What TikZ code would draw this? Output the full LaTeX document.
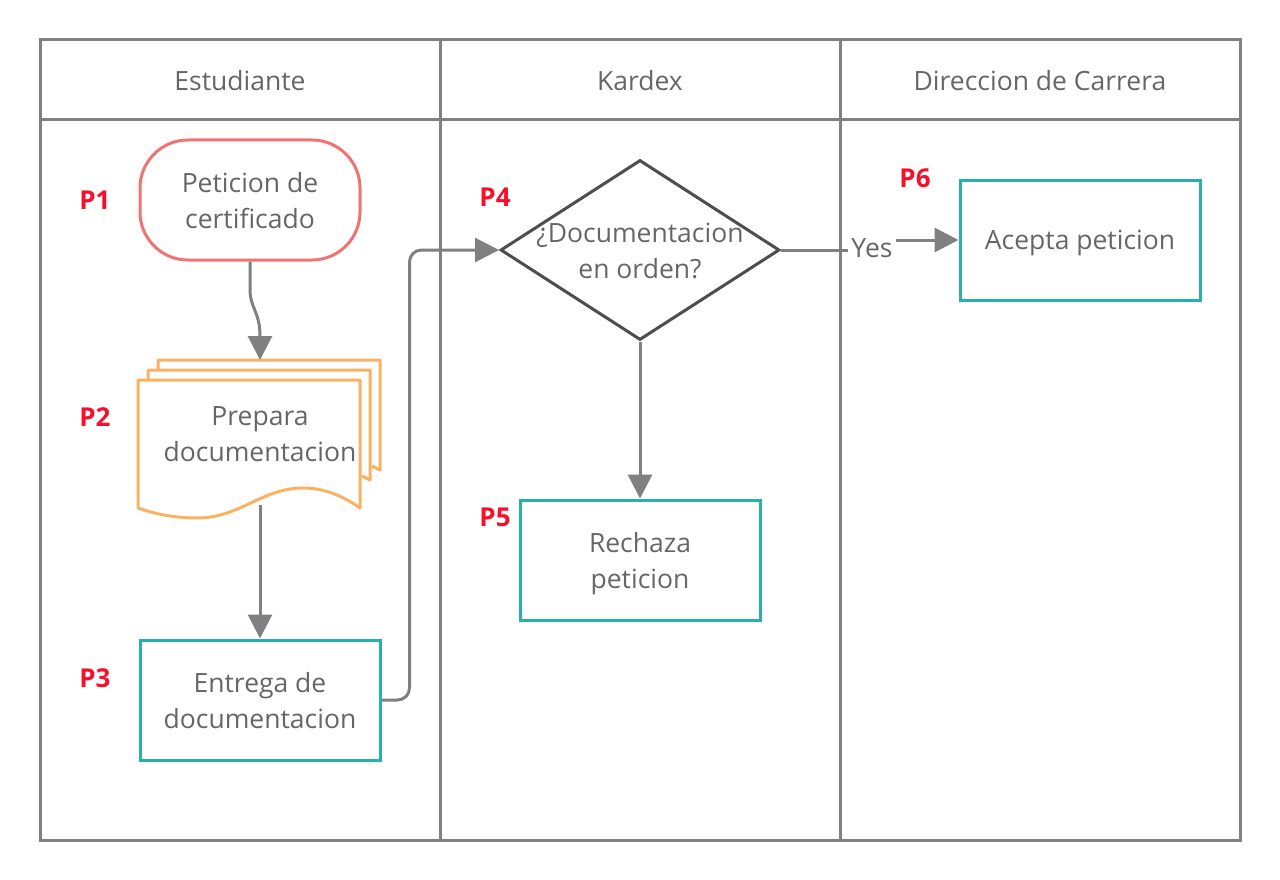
\documentclass[tikz,border=0pt]{standalone}
\usepackage{fontspec}
\setmainfont{Open Sans}
\usetikzlibrary{arrows.meta,shapes.geometric}
\definecolor{lanegray}{HTML}{808080}
\definecolor{txtgray}{HTML}{666666}
\definecolor{startred}{HTML}{F07373}
\definecolor{docorange}{HTML}{F8B262}
\definecolor{procteal}{HTML}{26B0AE}
\definecolor{decgray}{HTML}{4D4D4D}
\definecolor{pred}{HTML}{F8102A}

\begin{document}
\begin{tikzpicture}[x=1pt,y=-1pt,
    lane/.style={draw=lanegray, line width=3pt},
    boxtext/.style={text=txtgray, font=\fontsize{26.5}{36}\selectfont, align=center},
    shapetext/.style={boxtext, text depth=0pt},
    startbox/.style={shapetext, draw=startred, line width=3pt, rounded corners=48pt,
      minimum width=220pt, minimum height=120pt, fill=white},
    procbox/.style={shapetext, draw=procteal, line width=3pt,
      minimum width=240pt, minimum height=120pt},
    decbox/.style={diamond, draw=decgray, line width=3pt, inner sep=0pt,
      minimum width=279pt, minimum height=180pt},
    docpage/.style={draw=docorange, line width=3pt, fill=white, line join=round},
    flow/.style={draw=lanegray, line width=3pt, -{Triangle[width=24pt,length=24pt]}},
    plabel/.style={text=pred, font=\fontsize{26}{30}\selectfont\bfseries}]
  \useasboundingbox (0,0) rectangle (1280,880);

  % Swimlanes
  \draw[lane] (40,40) rectangle (1240,840);
  \draw[lane] (40,120) -- (1240,120);
  \draw[lane] (440,40) -- (440,840);
  \draw[lane] (840,40) -- (840,840);
  \node[boxtext] (estudiante) at (240,81) {Estudiante};
  \node[boxtext] (kardex) at (640,81) {Kardex};
  \node[boxtext] (direccion) at (1040,81) {Direccion de Carrera};

  % Estudiante
  \node[startbox] (p1) at (250,200) {Peticion de\\certificado};
  \foreach \d/\e in {20/470,10/480} {
    \draw[docpage] (138+\d,380) -- (138+\d,380-\d) -- (360+\d,380-\d) -- (360+\d,\e) -- (352+\d,\e-4);
  }
  \draw[docpage] (138,380) -- (360,380) -- (360,508)
    .. controls (340,494) and (322,488) .. (303,488)
    .. controls (262,488) and (240,518) .. (197,518)
    .. controls (172,518) and (152,513) .. (138,508) -- cycle;
  \node[shapetext] (p2) at (260,434) {Prepara\\documentacion};
  \coordinate (p2top) at (260,360);
  \coordinate (p2bot) at (260,505);
  \node[procbox] (p3) at (260,700) {Entrega de\\documentacion};

  % Kardex
  \node[decbox] (p4) at (640,250) {};
  \node[shapetext] (p4text) at (640,251) {¿Documentacion\\en orden?};
  \node[procbox] (p5) at (640,560) {Rechaza\\peticion};

  % Direccion de Carrera
  \node[procbox] (p6) at (1080,240) {Acepta peticion};
  \node[boxtext, inner sep=3pt] (yes) at (872,248) {Yes};

  % Step labels
  \node[plabel] (l1) at (95,200) {P1};
  \node[plabel] (l2) at (95,417) {P2};
  \node[plabel] (l3) at (95,678) {P3};
  \node[plabel] (l4) at (495,197) {P4};
  \node[plabel] (l5) at (495,517) {P5};
  \node[plabel] (l6) at (915,178) {P6};

  % Connectors
  \draw[flow] (p1.south) -- ++(0,28) .. controls (250,308) and (260,312) .. (260,336) -- (p2top);
  \draw[flow] (p2bot) -- (p3.north);
  \draw[flow, rounded corners=12pt] (p3.east) -- ++(28,0) |- (p4.west);
  \draw[flow] (p4.south) -- (p5.north);
  \draw[lanegray, line width=3pt] (p4.east) -- (p4.east -| yes.west);
  \draw[flow] (yes.east |- p6.west) -- (p6.west);
\end{tikzpicture}
\end{document}
